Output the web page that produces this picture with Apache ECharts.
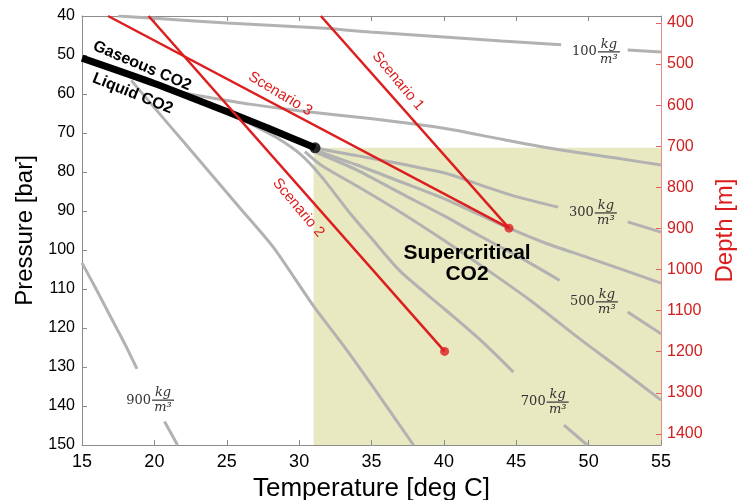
<!DOCTYPE html>
<html><head><meta charset="utf-8">
<script src="https://cdn.jsdelivr.net/npm/echarts@6/dist/echarts.min.js"></script>
<style>html,body{margin:0;padding:0;background:#fff}#c{width:739px;height:500px}</style>
</head><body><div id="c"></div>
<script>
// ---- axes ----
const tempRange = [15, 55];
const pressureRange = [40, 150];
const depthRange = [383, 1427];
const depthTicks = [400, 500, 600, 700, 800, 900, 1000, 1100, 1200, 1300, 1400];

// ---- CO2 phase boundary (T [deg C], P [bar]) ----
const saturation = [[15, 50.8], [20, 57.3], [25, 64.5], [28, 69], [31.1, 73.8]];
const criticalPoint = [31.1, 73.8];
const supercritical = [[31, 73.8], [55, 150]];

// ---- density isolines (null = gap for label) ----
const iso100 = [[17.5, 40], [20, 40.6], [25, 41.8], [31.5, 43.1], [34.9, 44.1], [40, 45.4], [44, 46.4], [48.1, 47.4], null, [52.7, 48.7], [55, 49.2]];
const iso200 = [[21.8, 59.6], [24, 61], [26.6, 62.6], [30, 64.3], [34.9, 66.3], [40, 68.8], [44, 71.6], [48, 74.3], [52, 76.5], [55, 78.2]];
const iso300 = [[29.8, 71.8], [31.3, 73.9], [34, 75.8], [37, 77.9], [40, 80.2], [42.5, 83.3], [45, 86.3], [47.9, 89], null, [52.7, 92.8], [55, 95.4]];
const iso400 = [[31.2, 74.5], [34, 78.2], [37, 82.5], [40, 86.8], [42.5, 91], [44.5, 94.4], [47, 98.2], [50, 102], [55, 108.5]];
const iso500 = [[31.2, 75], [34, 79.5], [37, 85.4], [40, 91.2], [42.5, 96.4], [45.5, 102.4], [48, 107.8], null, [52.7, 115.9], [55, 121.5]];
const iso600 = [[30.4, 74.8], [31.5, 78.2], [34, 83.6], [37, 90.3], [40, 97.5], [43, 105.1], [46, 113], [49.5, 123.1], [52, 130], [55, 138.5]];
const iso700 = [[25.5, 65.3], [27, 68.3], [28.5, 71.3], [30.1, 75.5], [31.5, 81], [33.5, 90.5], [35, 97], [37, 105.5], [40, 115], [42.5, 123], [44.8, 131.3], null, [48.3, 144.9], [49.9, 150]];
const iso800 = [[18.4, 56.5], [20, 63.5], [22, 72.2], [24, 80.9], [26, 89.6], [28.2, 99.2], [31, 114.4], [33, 124.2], [34.9, 134], [37.9, 150]];
const iso900 = [[15, 103.3], [16, 110.2], [17, 117.3], [18, 124.4], [18.8, 130.5], null, [20.7, 144], [21.6, 150]];

// ---- injection scenarios ----
const scenario1 = [[31.5, 40], [44.5, 94.4]];
const scenario2 = [[19.6, 40], [40.05, 126]];
const scenario3 = [[16.8, 40], [44.5, 94.4]];
const scenarioEnds = [[44.5, 94.4], [40.05, 126]];

// ---- density labels ----
const densityValues = [100, 300, 500, 700, 900];
const densityLabelT = [50.64, 50.43, 50.5, 47.1, 19.84];
const densityLabelP = [49.2, 90.5, 113.3, 139, 138.5];

// ---- text annotations ----
const annotTexts = ['Gaseous CO2', 'Liquid CO2', 'Scenario 1', 'Scenario 2', 'Scenario 3', 'Supercritical\nCO2'];
const annotT = [19.15, 18.5, 36.83, 29.95, 28.7, 41.6];
const annotP = [52.8, 59.9, 56.7, 89.2, 60.0, 103.6];
const annotAngle = [-23, -22, -50, -50, -31, 0];

const RED = '#dc1e1e';
const GRAY = '#b2b2b2';
const SANS = '"Liberation Sans", Arial, sans-serif';
const annotFonts = ['bold 16px ' + SANS, 'bold 16px ' + SANS, '15px ' + SANS, '15px ' + SANS, '15px ' + SANS, 'bold 21px ' + SANS];
const annotColors = ['#000', '#000', RED, RED, RED, '#000'];

function splitSegments(arr) {
  const segs = [[]];
  arr.forEach(p => { if (p === null) segs.push([]); else segs[segs.length - 1].push(p); });
  return segs.filter(s => s.length > 1);
}

const series = [];
// supercritical region
series.push({
  type: 'custom', z: 0, silent: true,
  data: [[supercritical[0][0], supercritical[0][1], supercritical[1][0], supercritical[1][1]]],
  renderItem: (params, api) => {
    const a = api.coord([api.value(0), api.value(1)]);
    const b = api.coord([api.value(2), api.value(3)]);
    return { type: 'rect', shape: { x: a[0], y: a[1], width: b[0] - a[0], height: b[1] - a[1] }, style: { fill: '#e8e8c1' } };
  }
});
[iso100, iso200, iso300, iso400, iso500, iso600, iso700, iso800, iso900].forEach(iso => {
  splitSegments(iso).forEach(seg => {
    series.push({ type: 'line', data: seg, smooth: 0.25, symbol: 'none', z: 2, silent: true,
      lineStyle: { color: GRAY, width: 3 } });
  });
});
series.push({ type: 'line', data: saturation, smooth: 0.2, symbol: 'none', z: 4, silent: true,
  lineStyle: { color: '#000', width: 7 } });
series.push({ type: 'scatter', data: [criticalPoint], symbolSize: 11, z: 4, silent: true, itemStyle: { color: '#000' } });
[scenario1, scenario2, scenario3].forEach(s => {
  series.push({ type: 'line', data: s, symbol: 'none', z: 5, silent: true, lineStyle: { color: RED, width: 2.5 } });
});
series.push({ type: 'scatter', data: scenarioEnds, symbolSize: 9, z: 6, silent: true, itemStyle: { color: RED } });

// density labels
series.push({
  type: 'custom', z: 7, silent: true, clip: false,
  data: densityValues.map((v, i) => [densityLabelT[i], densityLabelP[i], i]),
  renderItem: (params, api) => {
    const i = api.value(2);
    const p = api.coord([api.value(0), api.value(1)]);
    const serif = '"DejaVu Serif", "Liberation Serif", serif';
    return { type: 'group', children: [
      { type: 'text', x: p[0] - 1, y: p[1], style: { text: String(densityValues[i]), fill: '#333', font: '13px ' + serif, align: 'right', verticalAlign: 'middle' } },
      { type: 'text', x: p[0] + 11, y: p[1] - 1, style: { text: 'kg', fill: '#333', font: 'italic 13px ' + serif, align: 'center', verticalAlign: 'bottom' } },
      { type: 'line', shape: { x1: p[0], y1: p[1], x2: p[0] + 22, y2: p[1] }, style: { stroke: '#333', lineWidth: 1.2 } },
      { type: 'text', x: p[0] + 11, y: p[1] + 1, style: { text: 'm³', fill: '#333', font: 'italic 13px ' + serif, align: 'center', verticalAlign: 'top' } }
    ] };
  }
});
// annotations
series.push({
  type: 'custom', z: 8, silent: true, clip: false,
  data: annotTexts.map((t, i) => [annotT[i], annotP[i], i]),
  renderItem: (params, api) => {
    const i = api.value(2);
    const p = api.coord([api.value(0), api.value(1)]);
    return { type: 'text', x: p[0], y: p[1], rotation: annotAngle[i] * Math.PI / 180,
      style: { text: annotTexts[i], fill: annotColors[i], font: annotFonts[i], align: 'center', verticalAlign: 'middle', lineHeight: 21 } };
  }
});

const chart = echarts.init(document.getElementById('c'), null, { renderer: 'canvas' });
chart.setOption({
  animation: false,
  backgroundColor: '#fff',
  grid: { left: 82, right: 78, top: 16, bottom: 55, containLabel: false, outerBoundsMode: 'none' },
  xAxis: [{
    type: 'value', min: tempRange[0], max: tempRange[1], interval: 5, position: 'bottom',
    name: 'Temperature [deg C]', nameLocation: 'middle', nameGap: 27,
    nameTextStyle: { fontSize: 26, color: '#000', fontFamily: SANS },
    axisLine: { lineStyle: { color: '#8c8c8c', width: 1 } },
    axisTick: { inside: true, length: 5, lineStyle: { color: '#8c8c8c' } },
    axisLabel: { fontSize: 18, color: '#000', fontFamily: SANS, margin: 8 },
    splitLine: { show: false }
  }, {
    type: 'value', min: tempRange[0], max: tempRange[1], interval: 5, position: 'top',
    axisLine: { lineStyle: { color: '#8c8c8c', width: 1 } },
    axisTick: { inside: true, length: 5, lineStyle: { color: '#8c8c8c' } },
    axisLabel: { show: false }, splitLine: { show: false }
  }],
  yAxis: [{
    type: 'value', min: pressureRange[0], max: pressureRange[1], interval: 10, inverse: true, position: 'left',
    name: 'Pressure [bar]', nameLocation: 'middle', nameGap: 43, nameRotate: 90,
    nameTextStyle: { fontSize: 24, color: '#000', fontFamily: SANS },
    axisLine: { show: true, lineStyle: { color: '#8c8c8c', width: 1 } },
    axisTick: { show: true, inside: true, length: 5, lineStyle: { color: '#8c8c8c' } },
    axisLabel: { fontSize: 16, color: '#000', fontFamily: SANS, margin: 7 },
    splitLine: { show: false }
  }, {
    type: 'value', min: depthRange[0], max: depthRange[1], inverse: true, position: 'right',
    name: 'Depth [m]', nameLocation: 'middle', nameGap: 52, nameRotate: 90,
    nameTextStyle: { fontSize: 24, color: RED, fontFamily: SANS },
    axisLine: { show: true, lineStyle: { color: '#e88a8a', width: 1 } },
    axisTick: { show: true, inside: true, length: 5, lineStyle: { color: '#e06060' }, customValues: depthTicks },
    axisLabel: { fontSize: 16, color: '#d02020', fontFamily: SANS, margin: 6, customValues: depthTicks,
      formatter: v => String(Math.round(v)) },
    splitLine: { show: false }
  }],
  series: series
});
</script></body></html>
